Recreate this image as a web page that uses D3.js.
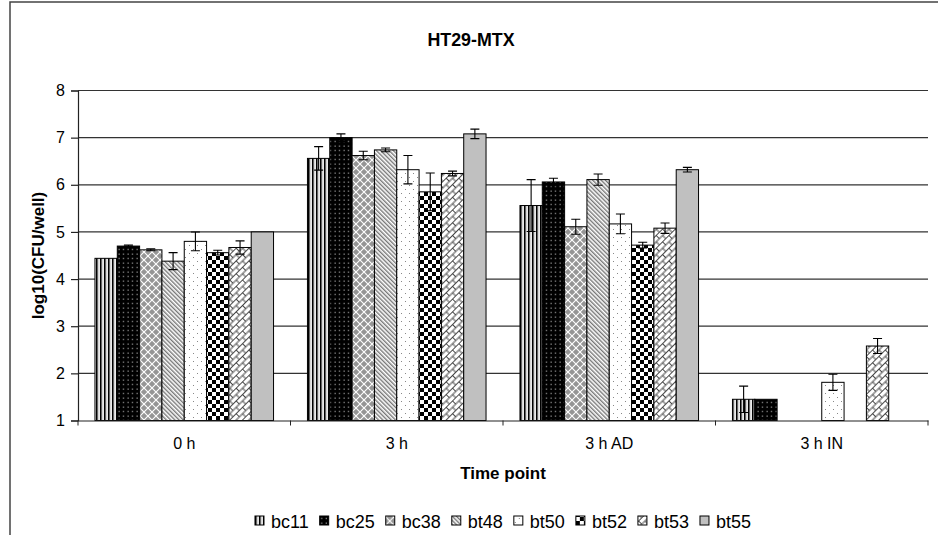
<!DOCTYPE html>
<html>
<head>
<meta charset="utf-8">
<script src="https://cdn.jsdelivr.net/npm/d3@7"></script>
<style>
  body { margin: 0; background: #fff; }
  text { font-family: Arial, "Liberation Sans", sans-serif; fill: #000; }
</style>
</head>
<body>
<script>
// categories, series and values
const timePoints = ["0 h", "3 h", "3 h AD", "3 h IN"];
const strains = ["bc11", "bc25", "bc38", "bt48", "bt50", "bt52", "bt53", "bt55"];

// mean log10(CFU/well), one array per time point (null = no bar)
const mean0h   = [4.44, 4.70, 4.62, 4.38, 4.80, 4.56, 4.67, 5.00];
const mean3h   = [6.56, 7.00, 6.62, 6.74, 6.32, 5.85, 6.24, 7.08];
const mean3hAD = [5.56, 6.06, 5.11, 6.11, 5.17, 4.72, 5.08, 6.32];
const mean3hIN = [1.45, 1.45, null, null, 1.81, null, 2.58, null];

// error (+/-)
const err0h   = [0.00, 0.02, 0.02, 0.18, 0.20, 0.05, 0.14, 0.01];
const err3h   = [0.25, 0.08, 0.09, 0.04, 0.30, 0.40, 0.05, 0.10];
const err3hAD = [0.55, 0.08, 0.16, 0.12, 0.21, 0.06, 0.11, 0.05];
const err3hIN = [0.28, 0.00, null, null, 0.17, null, 0.16, null];

const yTicks = [1, 2, 3, 4, 5, 6, 7, 8];

const means = [mean0h, mean3h, mean3hAD, mean3hIN];
const errs = [err0h, err3h, err3hAD, err3hIN];

const width = 938, height = 535;
const margin = {left: 78, right: 10, top: 90.5, bottom: 114.5};

const svg = d3.select("body").append("svg")
    .attr("width", width)
    .attr("height", height);

// fill patterns
const defs = svg.append("defs");

function pattern(id, w, h, transform) {
  const p = defs.append("pattern")
      .attr("id", id)
      .attr("patternUnits", "userSpaceOnUse")
      .attr("width", w)
      .attr("height", h);
  if (transform) p.attr("patternTransform", transform);
  return p;
}

let p = pattern("p-bc11", 4, 4);
p.append("rect").attr("width", 4).attr("height", 4).attr("fill", "#fff");
p.append("rect").attr("width", 1.6).attr("height", 4).attr("fill", "#000");
p.append("rect").attr("x", 2.6).attr("width", 0.6).attr("height", 4).attr("fill", "#999");

p = pattern("p-bc25", 4.5, 4.5);
p.append("rect").attr("width", 4.5).attr("height", 4.5).attr("fill", "#000");
p.append("rect").attr("x", 1.5).attr("y", 1.5).attr("width", 1.2).attr("height", 1.2).attr("fill", "#aaa");

p = pattern("p-bc38", 8, 8);
p.append("rect").attr("width", 8).attr("height", 8).attr("fill", "#fff");
p.append("path").attr("d", "M4,0.8L7.2,4L4,7.2L0.8,4Z M0,-3.2L3.2,0L0,3.2L-3.2,0Z M8,-3.2L11.2,0L8,3.2L4.8,0Z M0,4.8L3.2,8L0,11.2L-3.2,8Z M8,4.8L11.2,8L8,11.2L4.8,8Z")
    .attr("fill", "#959595");

p = pattern("p-bt48", 3, 3, "rotate(-45)");
p.append("rect").attr("width", 3).attr("height", 3).attr("fill", "#fff");
p.append("rect").attr("width", 1.4).attr("height", 3).attr("fill", "#777");

p = pattern("p-bt50", 8, 8);
p.append("rect").attr("width", 8).attr("height", 8).attr("fill", "#fff");
p.append("rect").attr("x", 1).attr("y", 1).attr("width", 1).attr("height", 1).attr("fill", "#888");
p.append("rect").attr("x", 5).attr("y", 5).attr("width", 1).attr("height", 1).attr("fill", "#888");

p = pattern("p-bt52", 8, 8);
p.append("rect").attr("width", 8).attr("height", 8).attr("fill", "#fff");
p.append("rect").attr("x", 0).attr("y", 0).attr("width", 4).attr("height", 4).attr("fill", "#000");
p.append("rect").attr("x", 4).attr("y", 4).attr("width", 4).attr("height", 4).attr("fill", "#000");

p = pattern("p-bt53", 9, 9, "rotate(-45)");
p.append("rect").attr("width", 9).attr("height", 9).attr("fill", "#fff");
p.append("path")
    .attr("d", "M0,0.5H9 M0,5H9 M0.5,0.5V5 M5,5V9")
    .attr("stroke", "#333").attr("stroke-width", 0.9).attr("fill", "none");

const fills = {
  bc11: "url(#p-bc11)", bc25: "url(#p-bc25)", bc38: "url(#p-bc38)", bt48: "url(#p-bt48)",
  bt50: "url(#p-bt50)", bt52: "url(#p-bt52)", bt53: "url(#p-bt53)", bt55: "#c0c0c0"
};

// outer frame
svg.append("path")
    .attr("d", `M10,${height}V2H${width}`)
    .attr("fill", "none").attr("stroke", "#444").attr("stroke-width", 1.5);

// scales
const x = d3.scaleBand()
    .domain(timePoints)
    .range([margin.left, width - margin.right])
    .paddingInner(0).paddingOuter(0);

const xs = d3.scaleBand()
    .domain(strains)
    .range([0, x.bandwidth()])
    .paddingInner(0).paddingOuter(0.76);

const y = d3.scaleLinear()
    .domain([1, 8])
    .range([height - margin.bottom, margin.top]);

// gridlines
svg.append("g")
  .selectAll("line")
  .data(yTicks.slice(1))
  .join("line")
    .attr("x1", margin.left).attr("x2", width - margin.right)
    .attr("y1", d => y(d)).attr("y2", d => y(d))
    .attr("stroke", "#333").attr("stroke-width", 1.2);

// title
svg.append("text")
    .attr("x", 471).attr("y", 41)
    .attr("text-anchor", "middle")
    .attr("font-weight", "bold")
    .attr("font-size", 17)
    .attr("transform", "translate(471,0) scale(1.05,1.12) translate(-471,0)")
    .text("HT29-MTX");

// bars
const rows = [];
timePoints.forEach((t, i) => {
  strains.forEach((s, j) => {
    if (means[i][j] != null) rows.push({t, s, v: means[i][j], e: errs[i][j]});
  });
});

const bars = svg.append("g");
bars.selectAll("rect")
  .data(rows)
  .join("rect")
    .attr("x", d => x(d.t) + xs(d.s))
    .attr("y", d => y(d.v))
    .attr("width", xs.bandwidth())
    .attr("height", d => y(1) - y(d.v))
    .attr("fill", d => fills[d.s])
    .attr("stroke", "#000")
    .attr("stroke-width", 1);

// error bars
const eb = svg.append("g")
    .attr("stroke", "#000").attr("stroke-width", 1.1);
rows.filter(d => d.e > 0.015).forEach(d => {
  const cx = x(d.t) + xs(d.s) + xs.bandwidth() / 2;
  const path = `M${cx},${y(d.v + d.e)}V${y(Math.max(1, d.v - d.e))}` +
    `M${cx - 4.5},${y(d.v + d.e)}H${cx + 4.5}` +
    (d.v - d.e > 1 ? `M${cx - 4.5},${y(d.v - d.e)}H${cx + 4.5}` : "");
  eb.append("path").attr("d", path).attr("fill", "none");
});

// y axis
svg.append("g")
    .attr("transform", `translate(${margin.left},0)`)
    .call(d3.axisLeft(y).tickValues(yTicks).tickFormat(d3.format("d")).tickSize(7).tickPadding(6))
    .call(g => g.selectAll("path, line").attr("stroke", "#222").attr("stroke-width", 1.2))
    .call(g => g.selectAll("text").attr("font-size", 16).attr("font-family", "Arial, 'Liberation Sans', sans-serif"));

// x axis
svg.append("g")
    .attr("transform", `translate(0,${y(1)})`)
    .call(d3.axisBottom(x).tickSize(0).tickPadding(17))
    .call(g => g.select(".domain").attr("stroke", "#222").attr("stroke-width", 1.2))
    .call(g => g.selectAll("text").attr("font-size", 16).attr("font-family", "Arial, 'Liberation Sans', sans-serif"));

svg.append("g")
  .selectAll("line")
  .data(timePoints.concat([null]))
  .join("line")
    .attr("x1", (d, i) => margin.left + i * x.step())
    .attr("x2", (d, i) => margin.left + i * x.step())
    .attr("y1", y(1)).attr("y2", y(1) + 5)
    .attr("stroke", "#222").attr("stroke-width", 1);

// axis titles
svg.append("text")
    .attr("x", (margin.left + width - margin.right) / 2)
    .attr("y", 479)
    .attr("text-anchor", "middle")
    .attr("font-weight", "bold")
    .attr("font-size", 17)
    .text("Time point");

svg.append("text")
    .attr("transform", `translate(44,${(y(1) + y(8)) / 2}) rotate(-90)`)
    .attr("text-anchor", "middle")
    .attr("font-weight", "bold")
    .attr("font-size", 17)
    .text("log10(CFU/well)");

// legend
const legend = svg.append("g");
let lx = 0;
strains.forEach(s => {
  const item = legend.append("g").attr("transform", `translate(${lx},0)`);
  item.append("rect")
      .attr("x", 0).attr("y", -5).attr("width", 9).attr("height", 9)
      .attr("fill", fills[s]).attr("stroke", "#000").attr("stroke-width", 1);
  const t = item.append("text")
      .attr("x", 16).attr("y", 6.5)
      .attr("font-size", 18)
      .text(s);
  lx += 16 + t.node().getComputedTextLength() + 11;
});
lx -= 11;
legend.attr("transform", `translate(${(margin.left + width - margin.right) / 2 - lx / 2},521)`);
</script>
</body>
</html>
